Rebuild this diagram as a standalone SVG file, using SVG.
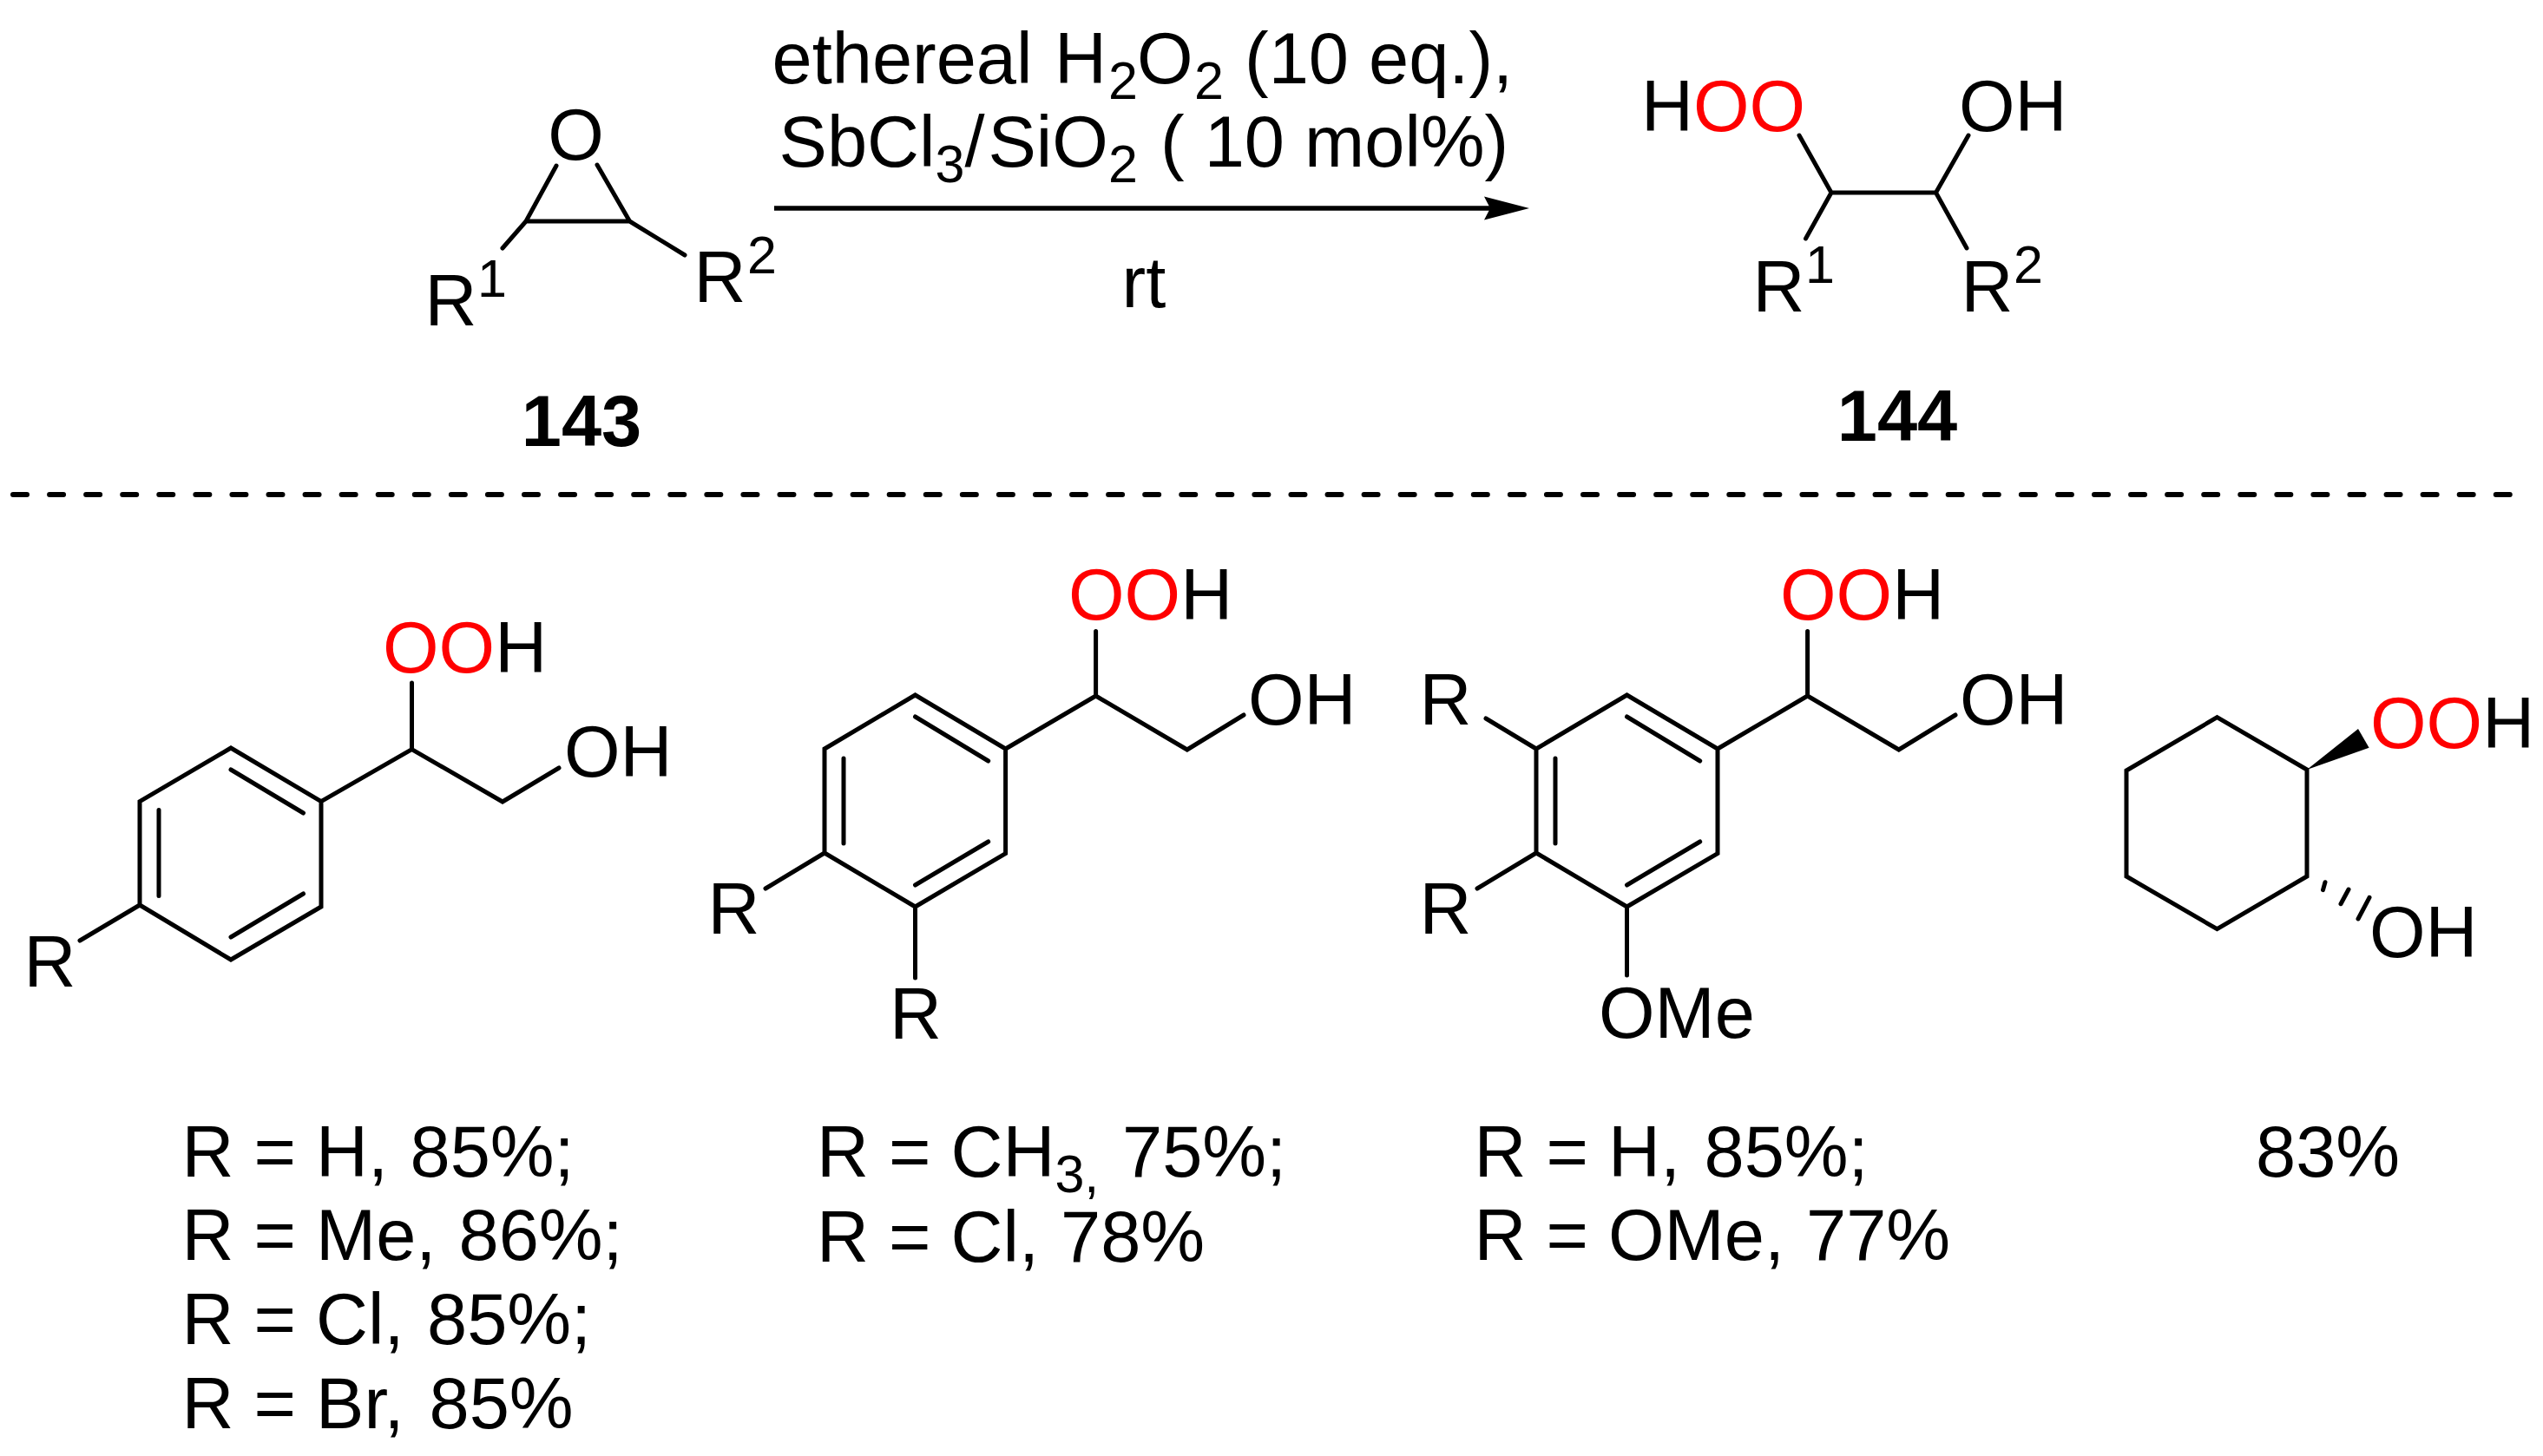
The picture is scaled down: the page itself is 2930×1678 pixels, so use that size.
<svg xmlns="http://www.w3.org/2000/svg" width="2930" height="1678" viewBox="0 0 2930 1678">
<style>
text{font-family:"Liberation Sans",Arial,sans-serif;font-size:83px;fill:#000;white-space:pre}
.s{font-size:61px}
.b{font-weight:bold;text-anchor:middle}
.r{fill:#f00}
.bond{fill:none;stroke:#000;stroke-width:5;stroke-linecap:round;stroke-linejoin:miter}
</style>
<defs>
<marker id="head" markerUnits="userSpaceOnUse" markerWidth="54" markerHeight="30" refX="35" refY="15" orient="auto"><path d="M0 1.500L52 15L0 28.500L7 15Z" fill="#000"/></marker>
</defs>
<rect width="2930" height="1678" fill="#fff"/>
<g id="connectors">
<path d="M892 240H1745" fill="none" stroke="#000" stroke-width="5.500" marker-end="url(#head)"/>
<path d="M15 570H2892" fill="none" stroke="#000" stroke-width="6" stroke-linecap="round" stroke-dasharray="16 26.07"/>
</g>
<g id="reagents">
<text x="889.500" y="96">ethereal <tspan x="1215">H</tspan><tspan class="s" x="1277" dy="18">2</tspan><tspan x="1310" dy="-18">O</tspan><tspan class="s" x="1376" dy="18">2</tspan><tspan x="1434" dy="-18">(10 eq.),</tspan></text>
<text x="897.600" y="192">SbCl<tspan class="s" dy="18">3</tspan><tspan dy="-18">/</tspan><tspan x="1138.500">SiO</tspan><tspan class="s" x="1277" dy="18">2</tspan><tspan x="1337" dy="-18">( 10 mol%)</tspan></text>
<text x="1292.500" y="354">rt</text>
</g>
<g id="n143">
<path class="bond" d="M641 191L606 255H725.500L688 190M606 255L579 286M725.500 255L789 294"/>
<text x="663.600" y="184" text-anchor="middle">O</text>
<text x="489.500" y="375">R</text><text class="s" x="550" y="342">1</text>
<text x="799.500" y="348">R</text><text class="s" x="861" y="315">2</text>
<text class="b" x="670" y="514">143</text>
</g>
<g id="n144">
<path class="bond" d="M2073 156L2110 222H2230.500L2268 156M2110 222L2080.500 275M2230.500 222L2266 286"/>
<text x="1891" y="151">H<tspan class="r">OO</tspan></text>
<text x="2257" y="151">OH</text>
<text x="2019.500" y="359">R</text><text class="s" x="2080" y="326">1</text>
<text x="2259.500" y="359">R</text><text class="s" x="2320" y="326">2</text>
<text class="b" x="2186" y="508">144</text>
</g>
<g id="product-a">
<path class="bond" d="M266 862L370 923.600V1045L266 1106L161 1043V923.600ZM266 887L349.500 937M183 933.600V1032.500M266 1080L349.500 1030M370 923.600L474.500 863.600V787M474.500 863.600L579 924L644 885M161 1043L92 1084"/>
<text x="441" y="775"><tspan class="r">OO</tspan>H</text>
<text x="650" y="895">OH</text>
<text x="27.500" y="1137">R</text>
</g>
<g id="product-b">
<path class="bond" d="M1054.500 801L1158.600 863V983.600L1054.500 1045L950 983V863ZM1054.500 826L1138.700 877M972 874V972M1054.500 1020L1138.700 970M1158.600 863L1262.600 802V727.500M1262.600 802L1367.800 864L1433 824M950 983L882 1024M1054.500 1045V1127"/>
<text x="1231" y="714"><tspan class="r">OO</tspan>H</text>
<text x="1438" y="835">OH</text>
<text x="815.500" y="1076">R</text>
<text x="1025" y="1197">R</text>
</g>
<g id="product-c">
<path class="bond" d="M1874.500 801L1979 863V983.600L1874.500 1045L1770 983V863ZM1874.500 826L1958.700 877M1792 874V972M1874.500 1020L1958.700 970M1979 863L2082.600 802V727.500M2082.600 802L2187.800 864L2253 824M1770 863L1712 828M1770 983L1702 1024M1874.500 1045V1124"/>
<text x="2051" y="714"><tspan class="r">OO</tspan>H</text>
<text x="2258" y="835">OH</text>
<text x="1635.500" y="835">R</text>
<text x="1635.500" y="1076">R</text>
<text x="1842" y="1196">OMe</text>
</g>
<g id="product-d">
<path class="bond" d="M2554.500 826.700L2658 887V1010L2554.500 1070.700L2450 1010V888ZM2679 1016.700L2676.500 1025.700M2706 1025L2697 1041.700M2730 1034.300L2717 1059"/>
<path d="M2658 887L2717 840L2729.600 861.700Z" fill="#000"/>
<text x="2731" y="861.700"><tspan class="r">OO</tspan>H</text>
<text x="2730" y="1102.700">OH</text>
</g>
<g id="yields">
<text x="209.500" y="1355.700">R = H, <tspan x="472.500">85%;</tspan></text>
<text x="209.500" y="1452.300">R = Me, <tspan x="528.500">86%;</tspan></text>
<text x="209.500" y="1548.700">R = Cl, <tspan x="492">85%;</tspan></text>
<text x="209.500" y="1645.700">R = Br, <tspan x="494.500">85%</tspan></text>
<text x="941" y="1355.700">R = CH<tspan class="s" dy="18">3,</tspan><tspan x="1293" dy="-18">75%;</tspan></text>
<text x="941" y="1454.300">R = Cl, <tspan x="1222">78%</tspan></text>
<text x="1698.500" y="1355.700">R = H, <tspan x="1963.500">85%;</tspan></text>
<text x="1698.500" y="1452.300">R = OMe, <tspan x="2081">77%</tspan></text>
<text x="2599" y="1355.700">83%</text>
</g>
</svg>
